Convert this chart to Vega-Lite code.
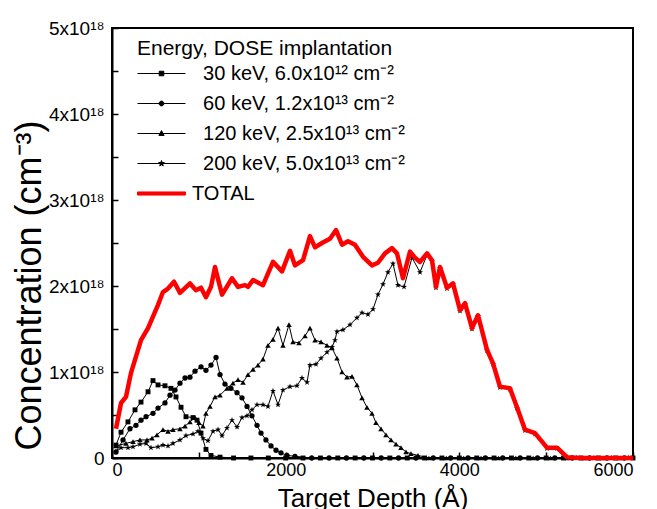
{
  "$schema": "https://vega.github.io/schema/vega-lite/v6.json",
  "width": 521,
  "height": 430,
  "autosize": {"type": "none"},
  "padding": {"left": 112, "top": 28, "right": 24, "bottom": 51},
  "background": "white",
  "config": {
    "font": "Liberation Sans",
    "view": {"stroke": "black", "strokeWidth": 2},
    "axis": {
      "domainColor": "black",
      "domainWidth": 2,
      "tickColor": "black",
      "tickWidth": 1.5,
      "tickSize": -6,
      "grid": false,
      "labelColor": "black",
      "titleColor": "black",
      "labelFont": "Liberation Sans",
      "titleFont": "Liberation Sans",
      "titleFontWeight": "normal"
    },
    "legend": {
      "orient": "none",
      "legendX": 25,
      "legendY": 10,
      "padding": 0,
      "titleFontSize": 21,
      "titleFontWeight": "normal",
      "titleColor": "black",
      "titleLimit": 500,
      "titlePadding": 2,
      "labelFontSize": 20,
      "labelColor": "black",
      "labelLimit": 400,
      "labelOffset": 18,
      "symbolSize": 576,
      "symbolOffset": 12,
      "symbolStrokeWidth": 1,
      "rowPadding": 7,
      "symbolOpacity": 1
    }
  },
  "datasets": {
    "profiles": [
      {"series": "30 keV", "depth": 46, "conc": 0.15e18},
      {"series": "30 keV", "depth": 104, "conc": 0.30e18},
      {"series": "30 keV", "depth": 184, "conc": 0.42e18},
      {"series": "30 keV", "depth": 265, "conc": 0.56e18},
      {"series": "30 keV", "depth": 334, "conc": 0.65e18},
      {"series": "30 keV", "depth": 415, "conc": 0.77e18},
      {"series": "30 keV", "depth": 472, "conc": 0.90e18},
      {"series": "30 keV", "depth": 530, "conc": 0.85e18},
      {"series": "30 keV", "depth": 610, "conc": 0.84e18},
      {"series": "30 keV", "depth": 679, "conc": 0.81e18},
      {"series": "30 keV", "depth": 737, "conc": 0.71e18},
      {"series": "30 keV", "depth": 795, "conc": 0.59e18},
      {"series": "30 keV", "depth": 852, "conc": 0.48e18},
      {"series": "30 keV", "depth": 933, "conc": 0.47e18},
      {"series": "30 keV", "depth": 979, "conc": 0.44e18},
      {"series": "30 keV", "depth": 1025, "conc": 0.29e18},
      {"series": "30 keV", "depth": 1082, "conc": 0.10e18},
      {"series": "30 keV", "depth": 1140, "conc": 0.03e18},
      {"series": "30 keV", "depth": 1244, "conc": 0.01e18},
      {"series": "30 keV", "depth": 1400, "conc": 0},
      {"series": "30 keV", "depth": 1600, "conc": 0},
      {"series": "30 keV", "depth": 1800, "conc": 0},
      {"series": "30 keV", "depth": 2000, "conc": 0},
      {"series": "30 keV", "depth": 2200, "conc": 0},
      {"series": "30 keV", "depth": 2400, "conc": 0},
      {"series": "30 keV", "depth": 2600, "conc": 0},
      {"series": "30 keV", "depth": 2800, "conc": 0},
      {"series": "30 keV", "depth": 3000, "conc": 0},
      {"series": "30 keV", "depth": 3200, "conc": 0},
      {"series": "30 keV", "depth": 3400, "conc": 0},
      {"series": "30 keV", "depth": 3600, "conc": 0},
      {"series": "30 keV", "depth": 3800, "conc": 0},
      {"series": "30 keV", "depth": 4000, "conc": 0},
      {"series": "30 keV", "depth": 4200, "conc": 0},
      {"series": "30 keV", "depth": 4400, "conc": 0},
      {"series": "30 keV", "depth": 4600, "conc": 0},
      {"series": "30 keV", "depth": 4800, "conc": 0},
      {"series": "30 keV", "depth": 5000, "conc": 0},
      {"series": "30 keV", "depth": 5200, "conc": 0},
      {"series": "30 keV", "depth": 5400, "conc": 0},
      {"series": "30 keV", "depth": 5600, "conc": 0},
      {"series": "30 keV", "depth": 5800, "conc": 0},
      {"series": "30 keV", "depth": 6000, "conc": 0},

      {"series": "60 keV", "depth": 46, "conc": 0.07e18},
      {"series": "60 keV", "depth": 127, "conc": 0.21e18},
      {"series": "60 keV", "depth": 207, "conc": 0.34e18},
      {"series": "60 keV", "depth": 276, "conc": 0.38e18},
      {"series": "60 keV", "depth": 334, "conc": 0.44e18},
      {"series": "60 keV", "depth": 392, "conc": 0.48e18},
      {"series": "60 keV", "depth": 472, "conc": 0.52e18},
      {"series": "60 keV", "depth": 530, "conc": 0.58e18},
      {"series": "60 keV", "depth": 610, "conc": 0.64e18},
      {"series": "60 keV", "depth": 668, "conc": 0.73e18},
      {"series": "60 keV", "depth": 726, "conc": 0.79e18},
      {"series": "60 keV", "depth": 783, "conc": 0.87e18},
      {"series": "60 keV", "depth": 841, "conc": 0.93e18},
      {"series": "60 keV", "depth": 898, "conc": 0.94e18},
      {"series": "60 keV", "depth": 956, "conc": 1.01e18},
      {"series": "60 keV", "depth": 1025, "conc": 1.06e18},
      {"series": "60 keV", "depth": 1082, "conc": 1.02e18},
      {"series": "60 keV", "depth": 1140, "conc": 1.08e18},
      {"series": "60 keV", "depth": 1198, "conc": 1.17e18},
      {"series": "60 keV", "depth": 1244, "conc": 0.97e18},
      {"series": "60 keV", "depth": 1301, "conc": 0.86e18},
      {"series": "60 keV", "depth": 1370, "conc": 0.81e18},
      {"series": "60 keV", "depth": 1440, "conc": 0.76e18},
      {"series": "60 keV", "depth": 1497, "conc": 0.70e18},
      {"series": "60 keV", "depth": 1555, "conc": 0.60e18},
      {"series": "60 keV", "depth": 1612, "conc": 0.49e18},
      {"series": "60 keV", "depth": 1670, "conc": 0.38e18},
      {"series": "60 keV", "depth": 1716, "conc": 0.29e18},
      {"series": "60 keV", "depth": 1773, "conc": 0.21e18},
      {"series": "60 keV", "depth": 1831, "conc": 0.14e18},
      {"series": "60 keV", "depth": 1889, "conc": 0.09e18},
      {"series": "60 keV", "depth": 1946, "conc": 0.06e18},
      {"series": "60 keV", "depth": 2015, "conc": 0.03e18},
      {"series": "60 keV", "depth": 2107, "conc": 0.02e18},
      {"series": "60 keV", "depth": 2300, "conc": 0},
      {"series": "60 keV", "depth": 2500, "conc": 0},
      {"series": "60 keV", "depth": 2700, "conc": 0},
      {"series": "60 keV", "depth": 2900, "conc": 0},
      {"series": "60 keV", "depth": 3100, "conc": 0},
      {"series": "60 keV", "depth": 3300, "conc": 0},
      {"series": "60 keV", "depth": 3500, "conc": 0},
      {"series": "60 keV", "depth": 3700, "conc": 0},
      {"series": "60 keV", "depth": 3900, "conc": 0},
      {"series": "60 keV", "depth": 4100, "conc": 0},
      {"series": "60 keV", "depth": 4300, "conc": 0},
      {"series": "60 keV", "depth": 4500, "conc": 0},
      {"series": "60 keV", "depth": 4700, "conc": 0},
      {"series": "60 keV", "depth": 4900, "conc": 0},
      {"series": "60 keV", "depth": 5100, "conc": 0},
      {"series": "60 keV", "depth": 5300, "conc": 0},
      {"series": "60 keV", "depth": 5500, "conc": 0},
      {"series": "60 keV", "depth": 5700, "conc": 0},
      {"series": "60 keV", "depth": 5900, "conc": 0},

      {"series": "120 keV", "depth": 46, "conc": 0.14e18},
      {"series": "120 keV", "depth": 161, "conc": 0.17e18},
      {"series": "120 keV", "depth": 242, "conc": 0.19e18},
      {"series": "120 keV", "depth": 322, "conc": 0.21e18},
      {"series": "120 keV", "depth": 403, "conc": 0.21e18},
      {"series": "120 keV", "depth": 461, "conc": 0.23e18},
      {"series": "120 keV", "depth": 518, "conc": 0.27e18},
      {"series": "120 keV", "depth": 587, "conc": 0.33e18},
      {"series": "120 keV", "depth": 645, "conc": 0.31e18},
      {"series": "120 keV", "depth": 702, "conc": 0.33e18},
      {"series": "120 keV", "depth": 783, "conc": 0.34e18},
      {"series": "120 keV", "depth": 841, "conc": 0.37e18},
      {"series": "120 keV", "depth": 898, "conc": 0.42e18},
      {"series": "120 keV", "depth": 956, "conc": 0.47e18},
      {"series": "120 keV", "depth": 1002, "conc": 0.41e18},
      {"series": "120 keV", "depth": 1048, "conc": 0.37e18},
      {"series": "120 keV", "depth": 1082, "conc": 0.52e18},
      {"series": "120 keV", "depth": 1129, "conc": 0.60e18},
      {"series": "120 keV", "depth": 1186, "conc": 0.71e18},
      {"series": "120 keV", "depth": 1244, "conc": 0.73e18},
      {"series": "120 keV", "depth": 1324, "conc": 0.81e18},
      {"series": "120 keV", "depth": 1393, "conc": 0.87e18},
      {"series": "120 keV", "depth": 1451, "conc": 0.91e18},
      {"series": "120 keV", "depth": 1509, "conc": 0.88e18},
      {"series": "120 keV", "depth": 1566, "conc": 0.97e18},
      {"series": "120 keV", "depth": 1624, "conc": 1.03e18},
      {"series": "120 keV", "depth": 1681, "conc": 1.08e18},
      {"series": "120 keV", "depth": 1739, "conc": 1.15e18},
      {"series": "120 keV", "depth": 1796, "conc": 1.31e18},
      {"series": "120 keV", "depth": 1854, "conc": 1.38e18},
      {"series": "120 keV", "depth": 1912, "conc": 1.51e18},
      {"series": "120 keV", "depth": 1969, "conc": 1.31e18},
      {"series": "120 keV", "depth": 2038, "conc": 1.55e18},
      {"series": "120 keV", "depth": 2084, "conc": 1.35e18},
      {"series": "120 keV", "depth": 2153, "conc": 1.34e18},
      {"series": "120 keV", "depth": 2223, "conc": 1.42e18},
      {"series": "120 keV", "depth": 2280, "conc": 1.51e18},
      {"series": "120 keV", "depth": 2338, "conc": 1.37e18},
      {"series": "120 keV", "depth": 2407, "conc": 1.35e18},
      {"series": "120 keV", "depth": 2476, "conc": 1.31e18},
      {"series": "120 keV", "depth": 2534, "conc": 1.28e18},
      {"series": "120 keV", "depth": 2591, "conc": 1.16e18},
      {"series": "120 keV", "depth": 2649, "conc": 1.00e18},
      {"series": "120 keV", "depth": 2706, "conc": 0.94e18},
      {"series": "120 keV", "depth": 2764, "conc": 0.95e18},
      {"series": "120 keV", "depth": 2821, "conc": 0.85e18},
      {"series": "120 keV", "depth": 2879, "conc": 0.70e18},
      {"series": "120 keV", "depth": 2936, "conc": 0.59e18},
      {"series": "120 keV", "depth": 2994, "conc": 0.52e18},
      {"series": "120 keV", "depth": 3040, "conc": 0.41e18},
      {"series": "120 keV", "depth": 3098, "conc": 0.34e18},
      {"series": "120 keV", "depth": 3155, "conc": 0.27e18},
      {"series": "120 keV", "depth": 3213, "conc": 0.21e18},
      {"series": "120 keV", "depth": 3271, "conc": 0.16e18},
      {"series": "120 keV", "depth": 3328, "conc": 0.12e18},
      {"series": "120 keV", "depth": 3386, "conc": 0.07e18},
      {"series": "120 keV", "depth": 3443, "conc": 0.05e18},
      {"series": "120 keV", "depth": 3524, "conc": 0.03e18},
      {"series": "120 keV", "depth": 3650, "conc": 0},
      {"series": "120 keV", "depth": 3850, "conc": 0},
      {"series": "120 keV", "depth": 4050, "conc": 0},
      {"series": "120 keV", "depth": 4250, "conc": 0},
      {"series": "120 keV", "depth": 4450, "conc": 0},
      {"series": "120 keV", "depth": 4650, "conc": 0},
      {"series": "120 keV", "depth": 4850, "conc": 0},
      {"series": "120 keV", "depth": 5050, "conc": 0},
      {"series": "120 keV", "depth": 5250, "conc": 0},
      {"series": "120 keV", "depth": 5450, "conc": 0},
      {"series": "120 keV", "depth": 5650, "conc": 0},
      {"series": "120 keV", "depth": 5850, "conc": 0},

      {"series": "200 keV", "depth": 46, "conc": 0.07e18},
      {"series": "200 keV", "depth": 104, "conc": 0.12e18},
      {"series": "200 keV", "depth": 184, "conc": 0.12e18},
      {"series": "200 keV", "depth": 242, "conc": 0.13e18},
      {"series": "200 keV", "depth": 322, "conc": 0.16e18},
      {"series": "200 keV", "depth": 392, "conc": 0.17e18},
      {"series": "200 keV", "depth": 449, "conc": 0.12e18},
      {"series": "200 keV", "depth": 530, "conc": 0.13e18},
      {"series": "200 keV", "depth": 587, "conc": 0.15e18},
      {"series": "200 keV", "depth": 645, "conc": 0.14e18},
      {"series": "200 keV", "depth": 702, "conc": 0.17e18},
      {"series": "200 keV", "depth": 783, "conc": 0.21e18},
      {"series": "200 keV", "depth": 852, "conc": 0.26e18},
      {"series": "200 keV", "depth": 933, "conc": 0.28e18},
      {"series": "200 keV", "depth": 990, "conc": 0.31e18},
      {"series": "200 keV", "depth": 1048, "conc": 0.23e18},
      {"series": "200 keV", "depth": 1105, "conc": 0.20e18},
      {"series": "200 keV", "depth": 1163, "conc": 0.31e18},
      {"series": "200 keV", "depth": 1221, "conc": 0.33e18},
      {"series": "200 keV", "depth": 1267, "conc": 0.26e18},
      {"series": "200 keV", "depth": 1324, "conc": 0.35e18},
      {"series": "200 keV", "depth": 1382, "conc": 0.44e18},
      {"series": "200 keV", "depth": 1440, "conc": 0.36e18},
      {"series": "200 keV", "depth": 1497, "conc": 0.47e18},
      {"series": "200 keV", "depth": 1555, "conc": 0.49e18},
      {"series": "200 keV", "depth": 1612, "conc": 0.56e18},
      {"series": "200 keV", "depth": 1670, "conc": 0.62e18},
      {"series": "200 keV", "depth": 1739, "conc": 0.62e18},
      {"series": "200 keV", "depth": 1796, "conc": 0.60e18},
      {"series": "200 keV", "depth": 1854, "conc": 0.78e18},
      {"series": "200 keV", "depth": 1912, "conc": 0.62e18},
      {"series": "200 keV", "depth": 1969, "conc": 0.79e18},
      {"series": "200 keV", "depth": 2050, "conc": 0.83e18},
      {"series": "200 keV", "depth": 2130, "conc": 0.84e18},
      {"series": "200 keV", "depth": 2188, "conc": 0.93e18},
      {"series": "200 keV", "depth": 2246, "conc": 0.88e18},
      {"series": "200 keV", "depth": 2280, "conc": 1.08e18},
      {"series": "200 keV", "depth": 2349, "conc": 1.09e18},
      {"series": "200 keV", "depth": 2407, "conc": 1.16e18},
      {"series": "200 keV", "depth": 2476, "conc": 1.23e18},
      {"series": "200 keV", "depth": 2534, "conc": 1.29e18},
      {"series": "200 keV", "depth": 2568, "conc": 1.37e18},
      {"series": "200 keV", "depth": 2591, "conc": 1.47e18},
      {"series": "200 keV", "depth": 2660, "conc": 1.49e18},
      {"series": "200 keV", "depth": 2741, "conc": 1.55e18},
      {"series": "200 keV", "depth": 2821, "conc": 1.63e18},
      {"series": "200 keV", "depth": 2879, "conc": 1.69e18},
      {"series": "200 keV", "depth": 2948, "conc": 1.67e18},
      {"series": "200 keV", "depth": 3006, "conc": 1.73e18},
      {"series": "200 keV", "depth": 3063, "conc": 1.90e18},
      {"series": "200 keV", "depth": 3121, "conc": 2.02e18},
      {"series": "200 keV", "depth": 3178, "conc": 2.16e18},
      {"series": "200 keV", "depth": 3236, "conc": 2.26e18},
      {"series": "200 keV", "depth": 3293, "conc": 2.01e18},
      {"series": "200 keV", "depth": 3363, "conc": 1.99e18},
      {"series": "200 keV", "depth": 3455, "conc": 2.33e18},
      {"series": "200 keV", "depth": 3547, "conc": 2.16e18},
      {"series": "200 keV", "depth": 3628, "conc": 2.36e18},
      {"series": "200 keV", "depth": 3685, "conc": 2.29e18},
      {"series": "200 keV", "depth": 3731, "conc": 1.98e18},
      {"series": "200 keV", "depth": 3777, "conc": 2.21e18},
      {"series": "200 keV", "depth": 3858, "conc": 1.97e18},
      {"series": "200 keV", "depth": 3927, "conc": 2.02e18},
      {"series": "200 keV", "depth": 4008, "conc": 1.71e18},
      {"series": "200 keV", "depth": 4065, "conc": 1.79e18},
      {"series": "200 keV", "depth": 4146, "conc": 1.50e18},
      {"series": "200 keV", "depth": 4215, "conc": 1.65e18},
      {"series": "200 keV", "depth": 4318, "conc": 1.25e18},
      {"series": "200 keV", "depth": 4388, "conc": 1.09e18},
      {"series": "200 keV", "depth": 4468, "conc": 0.82e18},
      {"series": "200 keV", "depth": 4583, "conc": 0.80e18},
      {"series": "200 keV", "depth": 4664, "conc": 0.58e18},
      {"series": "200 keV", "depth": 4756, "conc": 0.32e18},
      {"series": "200 keV", "depth": 4871, "conc": 0.28e18},
      {"series": "200 keV", "depth": 5009, "conc": 0.11e18},
      {"series": "200 keV", "depth": 5125, "conc": 0.11e18},
      {"series": "200 keV", "depth": 5240, "conc": 0.01e18},
      {"series": "200 keV", "depth": 5350, "conc": 0},
      {"series": "200 keV", "depth": 5550, "conc": 0},
      {"series": "200 keV", "depth": 5750, "conc": 0},
      {"series": "200 keV", "depth": 5950, "conc": 0},

      {"series": "TOTAL", "depth": 46, "conc": 0.34e18},
      {"series": "TOTAL", "depth": 104, "conc": 0.64e18},
      {"series": "TOTAL", "depth": 161, "conc": 0.71e18},
      {"series": "TOTAL", "depth": 219, "conc": 0.99e18},
      {"series": "TOTAL", "depth": 334, "conc": 1.37e18},
      {"series": "TOTAL", "depth": 415, "conc": 1.51e18},
      {"series": "TOTAL", "depth": 530, "conc": 1.78e18},
      {"series": "TOTAL", "depth": 587, "conc": 1.93e18},
      {"series": "TOTAL", "depth": 645, "conc": 1.97e18},
      {"series": "TOTAL", "depth": 714, "conc": 2.05e18},
      {"series": "TOTAL", "depth": 783, "conc": 1.92e18},
      {"series": "TOTAL", "depth": 898, "conc": 2.03e18},
      {"series": "TOTAL", "depth": 967, "conc": 1.95e18},
      {"series": "TOTAL", "depth": 1025, "conc": 1.98e18},
      {"series": "TOTAL", "depth": 1082, "conc": 1.87e18},
      {"series": "TOTAL", "depth": 1140, "conc": 1.99e18},
      {"series": "TOTAL", "depth": 1186, "conc": 2.22e18},
      {"series": "TOTAL", "depth": 1267, "conc": 1.90e18},
      {"series": "TOTAL", "depth": 1382, "conc": 2.09e18},
      {"series": "TOTAL", "depth": 1451, "conc": 1.99e18},
      {"series": "TOTAL", "depth": 1532, "conc": 2.01e18},
      {"series": "TOTAL", "depth": 1566, "conc": 1.99e18},
      {"series": "TOTAL", "depth": 1624, "conc": 2.07e18},
      {"series": "TOTAL", "depth": 1739, "conc": 2.01e18},
      {"series": "TOTAL", "depth": 1854, "conc": 2.28e18},
      {"series": "TOTAL", "depth": 1958, "conc": 2.17e18},
      {"series": "TOTAL", "depth": 2050, "conc": 2.41e18},
      {"series": "TOTAL", "depth": 2107, "conc": 2.24e18},
      {"series": "TOTAL", "depth": 2200, "conc": 2.30e18},
      {"series": "TOTAL", "depth": 2280, "conc": 2.58e18},
      {"series": "TOTAL", "depth": 2338, "conc": 2.45e18},
      {"series": "TOTAL", "depth": 2418, "conc": 2.50e18},
      {"series": "TOTAL", "depth": 2510, "conc": 2.55e18},
      {"series": "TOTAL", "depth": 2580, "conc": 2.65e18},
      {"series": "TOTAL", "depth": 2649, "conc": 2.48e18},
      {"series": "TOTAL", "depth": 2718, "conc": 2.52e18},
      {"series": "TOTAL", "depth": 2798, "conc": 2.48e18},
      {"series": "TOTAL", "depth": 2891, "conc": 2.34e18},
      {"series": "TOTAL", "depth": 2994, "conc": 2.24e18},
      {"series": "TOTAL", "depth": 3063, "conc": 2.27e18},
      {"series": "TOTAL", "depth": 3144, "conc": 2.38e18},
      {"series": "TOTAL", "depth": 3224, "conc": 2.44e18},
      {"series": "TOTAL", "depth": 3282, "conc": 2.38e18},
      {"series": "TOTAL", "depth": 3351, "conc": 2.09e18},
      {"series": "TOTAL", "depth": 3432, "conc": 2.40e18},
      {"series": "TOTAL", "depth": 3489, "conc": 2.33e18},
      {"series": "TOTAL", "depth": 3547, "conc": 2.28e18},
      {"series": "TOTAL", "depth": 3628, "conc": 2.38e18},
      {"series": "TOTAL", "depth": 3685, "conc": 2.30e18},
      {"series": "TOTAL", "depth": 3731, "conc": 1.99e18},
      {"series": "TOTAL", "depth": 3777, "conc": 2.22e18},
      {"series": "TOTAL", "depth": 3858, "conc": 1.98e18},
      {"series": "TOTAL", "depth": 3927, "conc": 2.03e18},
      {"series": "TOTAL", "depth": 4008, "conc": 1.72e18},
      {"series": "TOTAL", "depth": 4065, "conc": 1.80e18},
      {"series": "TOTAL", "depth": 4146, "conc": 1.51e18},
      {"series": "TOTAL", "depth": 4215, "conc": 1.66e18},
      {"series": "TOTAL", "depth": 4318, "conc": 1.26e18},
      {"series": "TOTAL", "depth": 4388, "conc": 1.10e18},
      {"series": "TOTAL", "depth": 4468, "conc": 0.83e18},
      {"series": "TOTAL", "depth": 4583, "conc": 0.81e18},
      {"series": "TOTAL", "depth": 4664, "conc": 0.59e18},
      {"series": "TOTAL", "depth": 4756, "conc": 0.33e18},
      {"series": "TOTAL", "depth": 4871, "conc": 0.29e18},
      {"series": "TOTAL", "depth": 5009, "conc": 0.12e18},
      {"series": "TOTAL", "depth": 5125, "conc": 0.12e18},
      {"series": "TOTAL", "depth": 5240, "conc": 0.01e18},
      {"series": "TOTAL", "depth": 5400, "conc": 0},
      {"series": "TOTAL", "depth": 6000, "conc": 0}
    ]
  },
  "data": {"name": "profiles"},
  "encoding": {
    "x": {
      "field": "depth",
      "type": "quantitative",
      "scale": {"domain": [0, 6000], "nice": false},
      "axis": {
        "values": [0, 1000, 2000, 3000, 4000, 5000, 6000],
        "format": "d",
        "labelExpr": "datum.value % 2000 == 0 ? datum.label : ''",
        "labelFontSize": 18,
        "labelPadding": 9,
        "title": "Target Depth (Å)",
        "titleFontSize": 26,
        "titleX": 260.5,
        "titleY": 48,
        "titleBaseline": "alphabetic",
        "titleAlign": "center"
      }
    },
    "y": {
      "field": "conc",
      "type": "quantitative",
      "scale": {"domain": [0, 5e18], "nice": false},
      "axis": {
        "values": [0, 0.5e18, 1e18, 1.5e18, 2e18, 2.5e18, 3e18, 3.5e18, 4e18, 4.5e18, 5e18],
        "labelExpr": "datum.value == 0 ? '0' : (datum.value % 1e18 == 0 ? format(datum.value / 1e18, 'd') + 'x10¹⁸' : '')",
        "labelFontSize": 19,
        "labelPadding": 14,
        "title": "Concentration (cm⁻³)",
        "titleFontSize": 36,
        "titleAngle": -90,
        "titleX": -72,
        "titleY": 257,
        "titleBaseline": "alphabetic",
        "titleAlign": "center"
      }
    }
  },
  "layer": [
    {
      "transform": [{"filter": "datum.series != 'TOTAL'"}],
      "mark": {"type": "line", "color": "black", "strokeWidth": 1},
      "encoding": {"detail": {"field": "series"}}
    },
    {
      "transform": [{"filter": "datum.series == '30 keV'"}],
      "mark": {"type": "point", "shape": "square", "filled": true, "color": "black", "opacity": 1, "size": 24}
    },
    {
      "transform": [{"filter": "datum.series == '60 keV'"}],
      "mark": {"type": "point", "shape": "circle", "filled": true, "color": "black", "opacity": 1, "size": 28}
    },
    {
      "transform": [{"filter": "datum.series == '120 keV'"}],
      "mark": {"type": "point", "shape": "triangle-up", "filled": true, "color": "black", "opacity": 1, "size": 30}
    },
    {
      "transform": [{"filter": "datum.series == '200 keV'"}],
      "mark": {"type": "point", "shape": "M0,-1L0.235,-0.324L0.951,-0.309L0.38,0.124L0.588,0.809L0,0.4L-0.588,0.809L-0.38,0.124L-0.951,-0.309L-0.235,-0.324Z", "filled": true, "color": "black", "opacity": 1, "size": 40}
    },
    {
      "transform": [{"filter": "datum.series == 'TOTAL'"}],
      "mark": {"type": "line", "color": "#ff0000", "strokeWidth": 4.5, "strokeJoin": "round"},
      "encoding": {}
    },
    {
      "transform": [{"filter": "datum.depth < 0"}],
      "mark": {"type": "point", "filled": true, "opacity": 1},
      "encoding": {
        "shape": {
          "field": "series",
          "type": "nominal",
          "scale": {
            "domain": ["30 keV", "60 keV", "120 keV", "200 keV", "TOTAL"],
            "range": [
              "M-2,0H2M-0.19,-0.19H0.19V0.19H-0.19Z",
              "M-2,0H2M-0.2,0A0.2,0.2,0,1,1,0.2,0A0.2,0.2,0,1,1,-0.2,0Z",
              "M-2,0H2M0,-0.24L0.22,0.16L-0.22,0.16Z",
              "M-2,0H2M0,-0.25L0.059,-0.081L0.238,-0.077L0.095,0.031L0.147,0.202L0,0.1L-0.147,0.202L-0.095,0.031L-0.238,-0.077L-0.059,-0.081Z",
              "M-2,-0.13H2V0.13H-2Z"
            ]
          },
          "legend": {
            "title": "Energy, DOSE implantation",
            "labelExpr": "{'30 keV': '\u200b\u00a0\u00a030 keV, 6.0x10¹² cm⁻²', '60 keV': '\u200b\u00a0\u00a060 keV, 1.2x10¹³ cm⁻²', '120 keV': '\u200b\u00a0\u00a0120 keV, 2.5x10¹³ cm⁻²', '200 keV': '\u200b\u00a0\u00a0200 keV, 5.0x10¹³ cm⁻²', 'TOTAL': 'TOTAL'}[datum.label]"
          }
        },
        "stroke": {
          "field": "series",
          "type": "nominal",
          "scale": {
            "domain": ["30 keV", "60 keV", "120 keV", "200 keV", "TOTAL"],
            "range": ["#000000", "#000000", "#000000", "#000000", "#ff0000"]
          },
          "legend": {
            "title": "Energy, DOSE implantation",
            "labelExpr": "{'30 keV': '\u200b\u00a0\u00a030 keV, 6.0x10¹² cm⁻²', '60 keV': '\u200b\u00a0\u00a060 keV, 1.2x10¹³ cm⁻²', '120 keV': '\u200b\u00a0\u00a0120 keV, 2.5x10¹³ cm⁻²', '200 keV': '\u200b\u00a0\u00a0200 keV, 5.0x10¹³ cm⁻²', 'TOTAL': 'TOTAL'}[datum.label]"
          }
        },
        "fill": {
          "field": "series",
          "type": "nominal",
          "scale": {
            "domain": ["30 keV", "60 keV", "120 keV", "200 keV", "TOTAL"],
            "range": ["#000000", "#000000", "#000000", "#000000", "#ff0000"]
          },
          "legend": {
            "title": "Energy, DOSE implantation",
            "labelExpr": "{'30 keV': '\u200b\u00a0\u00a030 keV, 6.0x10¹² cm⁻²', '60 keV': '\u200b\u00a0\u00a060 keV, 1.2x10¹³ cm⁻²', '120 keV': '\u200b\u00a0\u00a0120 keV, 2.5x10¹³ cm⁻²', '200 keV': '\u200b\u00a0\u00a0200 keV, 5.0x10¹³ cm⁻²', 'TOTAL': 'TOTAL'}[datum.label]"
          }
        }
      }
    }
  ]
}
